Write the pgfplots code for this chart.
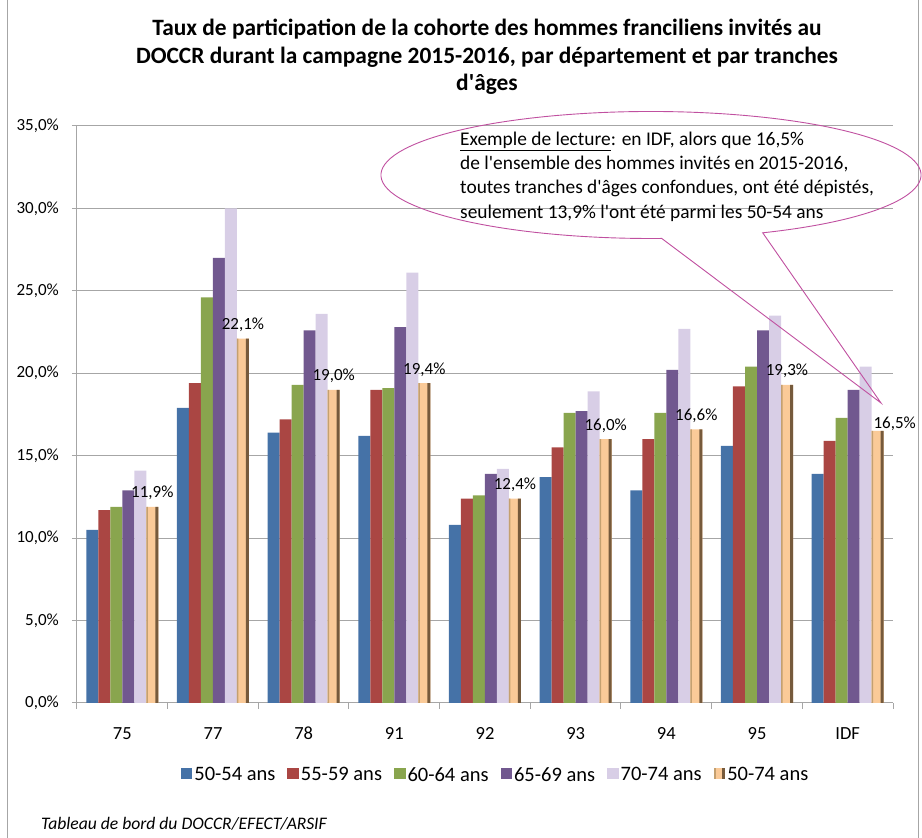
\documentclass[border=0pt]{standalone}
\usepackage{pgfplots}
\pgfplotsset{compat=1.18}
\usepackage{pgfplotstable}
\usepackage{fontspec}
\setmainfont{Carlito}

\definecolor{cBlue}{RGB}{69,114,167}
\definecolor{cRed}{RGB}{170,70,67}
\definecolor{cGreen}{RGB}{137,165,78}
\definecolor{cPurple}{RGB}{113,88,143}
\definecolor{cLav}{RGB}{216,206,230}
\definecolor{cPeach}{RGB}{250,202,152}
\definecolor{cTanL}{RGB}{196,160,112}
\definecolor{cTanR}{RGB}{118,90,60}
\definecolor{cGrid}{RGB}{166,166,166}
\definecolor{cCallout}{RGB}{192,80,160}

% taux de participation (%) par departement et tranche d'ages
\pgfplotstableread{
x  a     b     c     d     e     f     dx  dy
0  10.5  11.7  11.9  12.9  14.1  11.9  0   9
1  17.9  19.4  24.6  27.0  30.0  22.1  0   9
2  16.4  17.2  19.3  22.6  23.6  19.0  0   9
3  16.2  19.0  19.1  22.8  26.1  19.4  0   9
4  10.8  12.4  12.6  13.9  14.2  12.4  0   9
5  13.7  15.5  17.6  17.7  18.9  16.0  0   9
6  12.9  16.0  17.6  20.2  22.7  16.6  0   9
7  15.6  19.2  20.4  22.6  23.5  19.3  0   9
8  13.9  15.9  17.3  19.0  20.4  16.5  17  2
}\data

\begin{document}
\begin{tikzpicture}
\path[use as bounding box] (-77pt,-135pt) rectangle (845pt,703pt);
\draw[cGrid,line width=1pt] (-69pt,-135pt) -- (-69pt,703pt);
\draw[cGrid,line width=1pt] (841pt,-135pt) -- (841pt,703pt);

\begin{axis}[
    at={(0pt,0pt)}, anchor=south west,
    scale only axis, width=816pt, height=577pt,
    xmin=-0.5, xmax=8.5, ymin=0, ymax=35,
    ybar, bar width=12pt,
    axis x line*=bottom, axis y line*=left,
    axis line style={draw=cGrid, line width=1pt, -},
    xtick={0,...,8},
    xticklabels={75,77,78,91,92,93,94,95,IDF},
    minor xtick={-0.5,0.5,...,8.5},
    ytick={0,5,...,35},
    tick align=outside,
    major tick length=5pt, minor tick length=6pt,
    major x tick style={draw=none},
    minor x tick style={draw=cGrid, line width=1pt},
    major y tick style={draw=cGrid, line width=1pt},
    ymajorgrids,
    grid style={draw=cGrid, line width=1pt},
    /pgf/number format/assume math mode=true,
    yticklabel={\pgfmathprintnumber[fixed,fixed zerofill,precision=1,use comma]{\tick}\%},
    yticklabel style={font=\fontsize{17pt}{20pt}\selectfont, inner sep=0pt, anchor=east, xshift=-13pt},
    xticklabel style={font=\fontsize{18.5pt}{22pt}\selectfont, inner sep=0pt, anchor=base, yshift=-32pt},
    legend columns=6,
    legend style={at={(axis description cs:0.513,0)}, anchor=center, yshift=-72pt,
        draw=none, fill=none, font=\fontsize{20.5pt}{24pt}\selectfont,
        nodes={inner sep=2pt},
        /tikz/every even column/.append style={column sep=10pt}},
    legend image code/.code={\path[#1] (0pt,-4.5pt) rectangle (11.5pt,7pt);},
    every axis plot/.append style={draw=none},
]
\addplot[fill=cBlue, bar shift=-30pt] table[x=x,y=a] {\data};
\addlegendentry{50-54 ans}
\addplot[fill=cRed, bar shift=-18pt] table[x=x,y=b] {\data};
\addlegendentry{55-59 ans}
\addplot[fill=cGreen, bar shift=-6pt] table[x=x,y=c] {\data};
\addlegendentry{60-64 ans}
\addplot[fill=cPurple, bar shift=6pt] table[x=x,y=d] {\data};
\addlegendentry{65-69 ans}
\addplot[fill=cLav, bar shift=18pt] table[x=x,y=e] {\data};
\addlegendentry{70-74 ans}
\addplot[fill=cPeach, bar shift=30pt,
    legend image code/.code={
      \fill[cPeach] (0pt,-4.5pt) rectangle (11.5pt,7pt);
      \fill[cTanL] (0pt,-4.5pt) rectangle (2pt,7pt);
      \fill[cTanR] (8pt,-4.5pt) rectangle (11.5pt,7pt);},
    visualization depends on={\thisrow{dx} \as \dx},
    visualization depends on={\thisrow{dy} \as \dy},
    nodes near coords={\pgfmathprintnumber[fixed,fixed zerofill,precision=1,use comma]{\pgfplotspointmeta}\%},
    every node near coord/.append style={anchor=base, inner sep=0pt, xshift=\dx, yshift=\dy,
        font=\fontsize{17pt}{20pt}\selectfont, text=black},
    point meta=y,
    ] table[x=x,y=f] {\data};
\addlegendentry{50-74 ans}
% relief des barres 50-74 ans
\addplot[fill=cTanL, bar width=1.5pt, bar shift=24.75pt, forget plot] table[x=x,y=f] {\data};
\addplot[fill=cTanR, bar width=3pt, bar shift=34.5pt, forget plot] table[x=x,y=f] {\data};
\end{axis}

\begin{scope}[x=1pt,y=1pt]
  % titre
  \begin{scope}[every node/.style={anchor=base, inner sep=0pt,
      font=\fontsize{23.4pt}{28pt}\selectfont\bfseries}]
    \node at (410,667.5) {Taux de participation de la cohorte des hommes franciliens invités au};
    \node at (410,639.7) {DOCCR durant la campagne 2015-2016, par département et par tranches};
    \node at (410,612) {d\textquotesingle âges};
  \end{scope}
  % bulle
  \draw[cCallout, line width=0.9pt] (574,528) ++(-65.56:270 and 63.5)
    arc[start angle=-65.56, end angle=272.27, x radius=270, y radius=63.5]
    -- (804,300) -- cycle;
  \begin{scope}[every node/.style={anchor=base west, inner sep=0pt,
      font=\fontsize{19.4pt}{23pt}\selectfont}]
    \node at (383,557.3) {\underline{Exemple de lecture}: en IDF, alors que 16,5\%};
    \node at (383,533.7) {de l\textquotesingle ensemble des hommes invités en 2015-2016,};
    \node at (383,509.7) {toutes tranches d\textquotesingle âges confondues, ont été dépistés,};
    \node at (383,484.7) {seulement 13,9\% l\textquotesingle ont été parmi les 50-54 ans};
  \end{scope}
  % source
  \node[anchor=base west, inner sep=0pt, font=\fontsize{17.6pt}{21pt}\selectfont\itshape]
    at (-36,-127) {Tableau de bord du DOCCR/EFECT/ARSIF};
\end{scope}
\end{tikzpicture}
\end{document}
